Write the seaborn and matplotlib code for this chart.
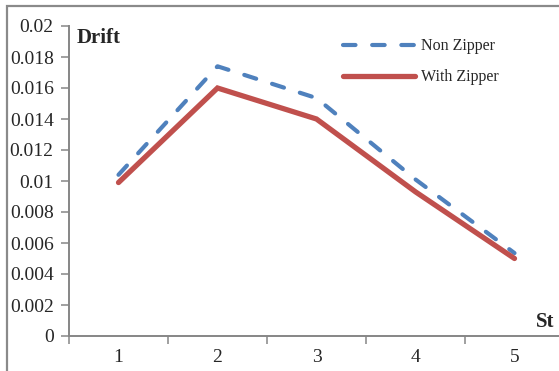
import matplotlib
matplotlib.use("Agg")
import matplotlib.pyplot as plt
from matplotlib.patches import Rectangle
from matplotlib.lines import Line2D
from matplotlib.ticker import FixedLocator, NullFormatter
import pandas as pd
import seaborn as sns

# Storey numbers and inter-storey drift for both configurations
storeys = [1, 2, 3, 4, 5]
drift_non_zipper = [0.0104, 0.0174, 0.01535, 0.0101, 0.00535]
drift_with_zipper = [0.0099, 0.0160, 0.0140, 0.0093, 0.0050]
series_names = ["Non Zipper", "With Zipper"]
y_ticks = [0, 0.002, 0.004, 0.006, 0.008, 0.01, 0.012, 0.014, 0.016, 0.018, 0.02]
y_tick_labels = ["0", "0.002", "0.004", "0.006", "0.008", "0.01",
                 "0.012", "0.014", "0.016", "0.018", "0.02"]

df = pd.DataFrame({
    "St": storeys * 2,
    "Drift": drift_non_zipper + drift_with_zipper,
    "Series": [series_names[0]] * len(storeys) + [series_names[1]] * len(storeys),
})

sns.set_style("white")
plt.rcParams["font.family"] = ["Liberation Serif", "DejaVu Serif"]

W, H = 559, 371
fig = plt.figure(figsize=(W / 100, H / 100), dpi=100)

# plot area, measured in pixels; right edge runs past the canvas
left_px, right_px, top_px, bottom_px = 69, 564, 26, 336
ax = fig.add_axes([left_px / W, 1 - bottom_px / H,
                   (right_px - left_px) / W, (bottom_px - top_px) / H])

blue = "#4F81BD"
red = "#C0504D"
gray = "#868686"

sns.lineplot(data=df, x="St", y="Drift", hue="Series", style="Series",
             palette={series_names[0]: blue, series_names[1]: red},
             dashes={series_names[0]: (3, 4), series_names[1]: ""},
             ax=ax, legend=False, estimator=None)

lines = ax.get_lines()
lines[0].set_linewidth(3.0)
lines[0].set_dash_capstyle("round")
lines[0].set_solid_capstyle("round")
lines[1].set_linewidth(3.8)
lines[1].set_solid_capstyle("round")
lines[1].set_solid_joinstyle("miter")
lines[0].set_zorder(3)
lines[1].set_zorder(4)

ax.set_xlim(0.5, 5.5)
ax.set_ylim(0, 0.02)
ax.set_xlabel("")
ax.set_ylabel("")

# y axis
ax.set_yticks(y_ticks)
ax.set_yticklabels(y_tick_labels)
ax.tick_params(axis="y", which="major", left=True, direction="out", length=6,
               width=1.1, color=gray, pad=5, labelsize=14)

# x axis: tick marks between categories, labels at the category centres
ax.xaxis.set_major_locator(FixedLocator([0.5, 1.5, 2.5, 3.5, 4.5, 5.5]))
ax.xaxis.set_major_formatter(NullFormatter())
ax.xaxis.set_minor_locator(FixedLocator(storeys))
ax.set_xticklabels([str(s) for s in storeys], minor=True)
ax.tick_params(axis="x", which="major", bottom=True, direction="out",
               length=6, width=1.1, color=gray)
ax.tick_params(axis="x", which="minor", bottom=True, length=0, pad=9,
               labelsize=14)

for side in ["top", "right"]:
    ax.spines[side].set_visible(False)
for side in ["left", "bottom"]:
    ax.spines[side].set_color(gray)
    ax.spines[side].set_linewidth(1.4)

# legend
handles = [
    Line2D([], [], color=blue, lw=3.0, linestyle=(0, (3, 4)),
           dash_capstyle="round"),
    Line2D([], [], color=red, lw=3.8, solid_capstyle="round"),
]
fig.legend(handles, series_names, loc="upper left",
           bbox_to_anchor=(332 / W, 1 - 27 / H), frameon=False,
           fontsize=11.5, handlelength=4.5, handletextpad=0.4,
           labelspacing=0.95, borderpad=0.2)

# axis titles
fig.text(77 / W, 1 - 38 / H, "Drift", fontsize=15, fontweight="bold",
         va="center", ha="left")
fig.text(554 / W, 1 - 322 / H, "St", fontsize=15, fontweight="bold",
         va="center", ha="right")

# outer chart frame
fig.patches.append(Rectangle((7 / W, -0.2), 2.0, 1.2 - 6 / H,
                             transform=fig.transFigure, fill=False,
                             edgecolor="#8a8a8a", linewidth=1.6))

fig.savefig("out.png", dpi=100)
